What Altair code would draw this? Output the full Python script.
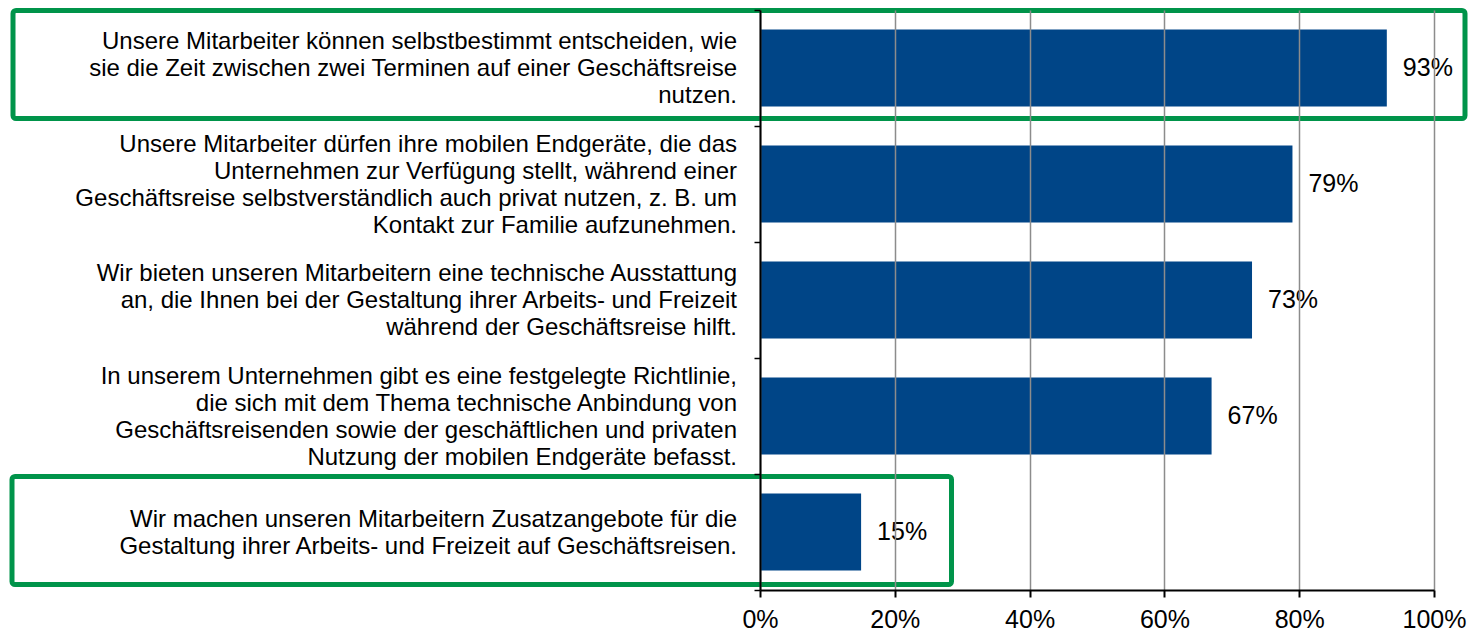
import altair as alt
import pandas as pd

categories = [
    "Unsere Mitarbeiter können selbstbestimmt entscheiden, wie\nsie die Zeit zwischen zwei Terminen auf einer Geschäftsreise\nnutzen.",
    "Unsere Mitarbeiter dürfen ihre mobilen Endgeräte, die das\u00a0\nUnternehmen zur Verfügung stellt, während einer\u00a0\nGeschäftsreise selbstverständlich auch privat nutzen, z. B. um\nKontakt zur Familie aufzunehmen.\u00a0",
    "Wir bieten unseren Mitarbeitern eine technische Ausstattung\nan, die Ihnen bei der Gestaltung ihrer Arbeits- und Freizeit\nwährend der Geschäftsreise hilft.",
    "In unserem Unternehmen gibt es eine festgelegte Richtlinie,\ndie sich mit dem Thema technische Anbindung von\nGeschäftsreisenden sowie der geschäftlichen und privaten\nNutzung der mobilen Endgeräte befasst.",
    "Wir machen unseren Mitarbeitern Zusatzangebote für die\nGestaltung ihrer Arbeits- und Freizeit auf Geschäftsreisen.",
]
keys = ["c1", "c2", "c3", "c4", "c5"]
values = [0.93, 0.79, 0.73, 0.67, 0.15]
x_ticks = [0, 0.2, 0.4, 0.6, 0.8, 1.0]

LINE_H = 27
df = pd.DataFrame({
    "key": keys, "label": categories, "value": values,
    "lines": [c.count("\n") + 1 for c in categories],
})

W, H = 674, 580
FONT = "Liberation Sans"

y_scale = alt.Scale(paddingInner=0, paddingOuter=0)
y_enc = alt.Y(
    "key:N",
    sort=keys,
    scale=y_scale,
    axis=alt.Axis(
        title=None, labels=False, domainColor="black", domainWidth=2,
        tickColor="black", tickWidth=1.5, tickSize=6, tickBand="extent",
        zindex=1,
    ),
)
x_enc = alt.X(
    "value:Q",
    scale=alt.Scale(domain=[0, 1], nice=False),
    axis=alt.Axis(
        title=None, values=x_ticks, format=".0%", grid=True,
        gridColor="#8c8c8c", gridWidth=1.5,
        domainColor="black", domainWidth=2, tickColor="black", tickWidth=2,
        tickSize=7, labelFontSize=25, labelColor="black", labelFont=FONT,
        labelPadding=10, labelFlush=False, labelOverlap=False, zindex=1,
    ),
)

base = alt.Chart(df)

bars = base.mark_bar(color="#004587", height={"band": 0.664}).encode(x=x_enc, y=y_enc)

vals = base.mark_text(
    align="left", baseline="middle", dx=16, fontSize=25, font=FONT, color="black"
).encode(
    x="value:Q", y=alt.Y("key:N", sort=keys, scale=y_scale),
    text=alt.Text("value:Q", format=".0%"),
)

label_layers = []
for n in sorted(set(df["lines"])):
    label_layers.append(
        base.transform_filter(alt.datum.lines == n).mark_text(
            align="right", baseline="middle", fontSize=24, font=FONT,
            color="black", lineBreak="\n", lineHeight=LINE_H,
            dy=-(n - 1) * LINE_H / 2 + 1,
        ).encode(
            x=alt.value(-23), y=alt.Y("key:N", sort=keys, scale=y_scale),
            text="label:N",
        )
    )

box_df = pd.DataFrame({
    "x0": [-747, -748], "x1": [705, 191.5],
    "y0": [0.5, 466.5], "y1": [108.5, 574.5],
})
boxes = alt.Chart(box_df).mark_rect(
    fill=None, fillOpacity=0, stroke="#00944a", strokeWidth=5, cornerRadius=3
).encode(
    x=alt.X("x0:Q", scale=None), x2="x1:Q",
    y=alt.Y("y0:Q", scale=None), y2="y1:Q",
)

chart = alt.layer(bars, vals, *label_layers, boxes).properties(
    width=W, height=H,
    autosize=alt.AutoSizeParams(type="none"),
    padding={"left": 752, "top": 2, "right": 37, "bottom": 50},
).configure_view(stroke=None).configure(background="white")

chart.save("out.html", embed_options={"renderer": "svg", "actions": False})
